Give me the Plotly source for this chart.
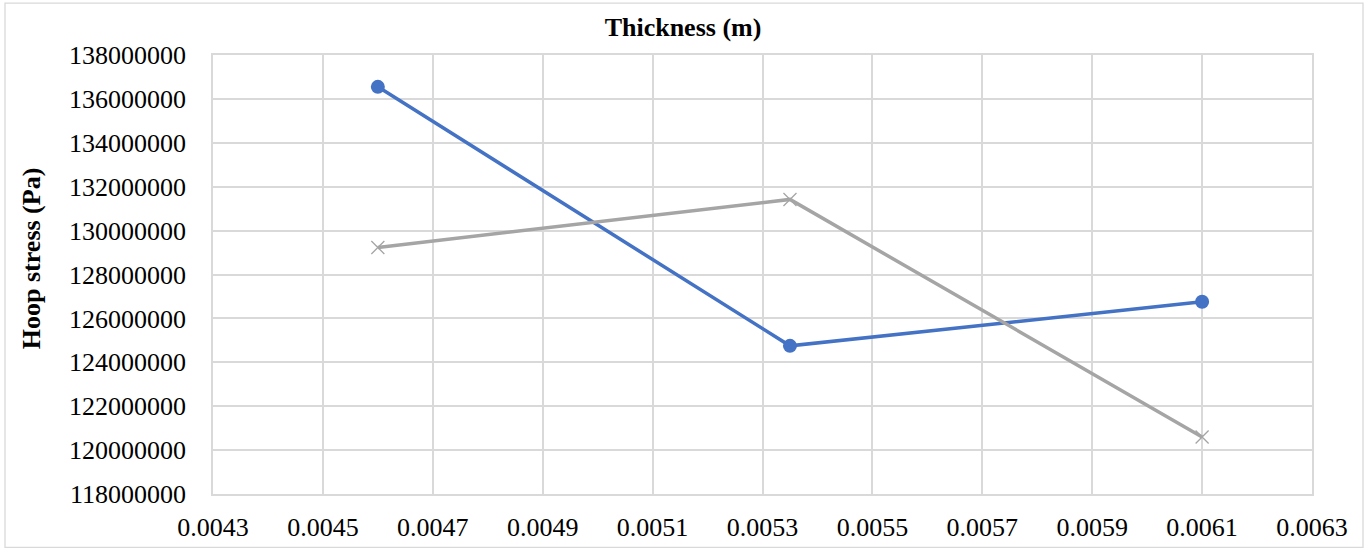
import plotly.graph_objects as go

# Data
thickness = [0.0046, 0.00535, 0.0061]
hoop_stress_a = [136550000, 124750000, 126760000]
hoop_stress_b = [129230000, 131420000, 120600000]

W, H = 1369, 554
L, R, T, B = 213, 1312, 55, 499  # plot area in pixels
pw, ph = R - L, B - T

def px_x(x):
    return (x - L) / pw

def px_y(y):
    return (B - y) / ph

FONT = "Liberation Serif, Times New Roman, serif"
GRID = "#d9d9d9"

fig = go.Figure()
fig.add_trace(go.Scatter(
    x=thickness, y=hoop_stress_a, mode="lines+markers",
    line=dict(color="#4472C4", width=3.5),
    marker=dict(symbol="circle", size=14, color="#4472C4"),
    showlegend=False, cliponaxis=False,
))
fig.add_trace(go.Scatter(
    x=thickness, y=hoop_stress_b, mode="lines+markers",
    line=dict(color="#A5A5A5", width=3.5),
    marker=dict(symbol="x-thin-open", size=13, color="#A5A5A5",
                line=dict(color="#A5A5A5", width=1.3)),
    showlegend=False, cliponaxis=False,
))

fig.update_layout(
    width=W, height=H,
    margin=dict(l=L, r=W - R, t=T, b=H - B, pad=0),
    paper_bgcolor="white", plot_bgcolor="white",
    font=dict(family=FONT, size=26, color="#000000"),
    title=dict(text="<b>Thickness (m)</b>", x=683 / W, xanchor="center",
               xref="container", yref="container", y=1 - 27 / H,
               yanchor="middle", font=dict(family=FONT, size=26, color="#000000")),
    xaxis=dict(range=[0.0043, 0.0063], tick0=0.0043, dtick=0.0002,
               showgrid=True, gridcolor=GRID, gridwidth=1.5,
               showline=True, linecolor=GRID, linewidth=1.5, mirror=True,
               zeroline=False, ticks="", ticklabelstandoff=9,
               tickfont=dict(family=FONT, size=26, color="#000000")),
    yaxis=dict(range=[118000000, 138000000], dtick=2000000, tickformat="d",
               showgrid=True, gridcolor=GRID, gridwidth=1.5,
               showline=True, linecolor=GRID, linewidth=1.5, mirror=True,
               zeroline=False, ticks="", ticklabelstandoff=20,
               tickfont=dict(family=FONT, size=26, color="#000000")),
    annotations=[dict(
        text="<b>Hoop stress (Pa)</b>", textangle=-90,
        xref="paper", yref="paper", x=px_x(31), y=px_y(260.5),
        xanchor="center", yanchor="middle", showarrow=False,
        font=dict(family=FONT, size=26, color="#000000"),
    )],
    shapes=[dict(
        type="rect", xref="paper", yref="paper",
        x0=px_x(5), x1=px_x(1363), y0=px_y(553), y1=px_y(2.5),
        line=dict(color=GRID, width=1.3), fillcolor="rgba(0,0,0,0)", layer="below",
    )],
)

fig.write_html("out.html")
